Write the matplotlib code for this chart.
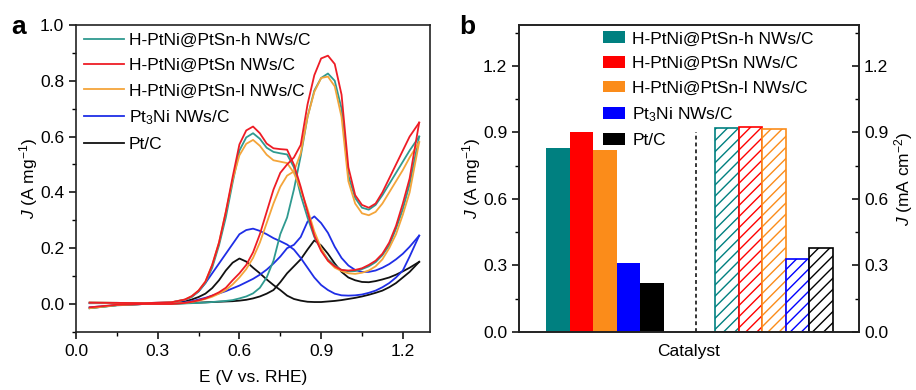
import matplotlib
matplotlib.use("Agg")
import matplotlib.pyplot as plt
from matplotlib.ticker import MultipleLocator
from matplotlib.patches import Patch

plt.rcParams['font.family'] = ['Liberation Sans', 'DejaVu Sans']
plt.rcParams['mathtext.fontset'] = 'custom'
plt.rcParams['mathtext.rm'] = 'Liberation Sans'
plt.rcParams['mathtext.it'] = 'Liberation Sans:italic'
plt.rcParams['font.size'] = 12.5
plt.rcParams['hatch.linewidth'] = 1.0

# ---- panel a: CV curves (potential grid shared by all scans) ----
E = [0.05, 0.15, 0.25, 0.35, 0.400, 0.425, 0.450, 0.475, 0.500, 0.525,
     0.550, 0.575, 0.600, 0.625, 0.650, 0.675, 0.700, 0.725, 0.750, 0.775,
     0.800, 0.825, 0.850, 0.875, 0.900, 0.925, 0.950, 0.975, 1.000, 1.025,
     1.050, 1.075, 1.100, 1.125, 1.150, 1.175, 1.200, 1.225, 1.260]

h_fwd = [-0.015, -0.005, 0.0, 0.0, 0.002, 0.003, 0.004, 0.005, 0.007, 0.009,
         0.011, 0.014, 0.020, 0.027, 0.038, 0.058, 0.095, 0.155, 0.250, 0.310,
         0.410, 0.530, 0.670, 0.765, 0.810, 0.826, 0.800, 0.700, 0.460, 0.380,
         0.345, 0.338, 0.355, 0.390, 0.430, 0.470, 0.510, 0.550, 0.600]
h_rev = [0.005, 0.004, 0.002, 0.005, 0.015, 0.025, 0.045, 0.075, 0.130, 0.210,
         0.310, 0.435, 0.550, 0.597, 0.612, 0.592, 0.560, 0.545, 0.540, 0.536,
         0.490, 0.390, 0.310, 0.240, 0.195, 0.160, 0.138, 0.122, 0.117, 0.118,
         0.125, 0.135, 0.150, 0.175, 0.210, 0.270, 0.340, 0.430, 0.600]

m_fwd = [-0.012, -0.003, 0.0, 0.0, 0.004, 0.008, 0.013, 0.020, 0.030, 0.042,
         0.058, 0.085, 0.110, 0.140, 0.185, 0.250, 0.330, 0.410, 0.470, 0.500,
         0.525, 0.570, 0.715, 0.820, 0.880, 0.890, 0.860, 0.750, 0.490, 0.390,
         0.355, 0.345, 0.360, 0.400, 0.450, 0.500, 0.550, 0.600, 0.650]
m_rev = [0.005, 0.004, 0.003, 0.006, 0.016, 0.028, 0.048, 0.080, 0.140, 0.220,
         0.330, 0.455, 0.572, 0.622, 0.636, 0.612, 0.575, 0.558, 0.555, 0.553,
         0.500, 0.420, 0.330, 0.245, 0.190, 0.155, 0.135, 0.122, 0.120, 0.122,
         0.128, 0.140, 0.155, 0.180, 0.220, 0.280, 0.360, 0.450, 0.650]

l_fwd = [-0.015, -0.004, 0.0, 0.001, 0.004, 0.007, 0.012, 0.018, 0.026, 0.037,
         0.050, 0.070, 0.095, 0.125, 0.165, 0.220, 0.290, 0.360, 0.420, 0.460,
         0.475, 0.540, 0.670, 0.760, 0.810, 0.815, 0.780, 0.670, 0.440, 0.360,
         0.325, 0.318, 0.330, 0.360, 0.400, 0.440, 0.480, 0.525, 0.580]
l_rev = [0.005, 0.004, 0.003, 0.006, 0.016, 0.028, 0.048, 0.080, 0.140, 0.220,
         0.330, 0.445, 0.533, 0.574, 0.588, 0.567, 0.535, 0.515, 0.510, 0.505,
         0.470, 0.410, 0.340, 0.260, 0.200, 0.155, 0.130, 0.118, 0.110, 0.108,
         0.112, 0.120, 0.135, 0.160, 0.200, 0.250, 0.320, 0.400, 0.580]

pt3ni_fwd = [-0.012, -0.004, 0.0, 0.002, 0.006, 0.010, 0.016, 0.022, 0.030, 0.038,
             0.046, 0.056, 0.066, 0.078, 0.090, 0.105, 0.123, 0.145, 0.170, 0.200,
             0.212, 0.240, 0.295, 0.314, 0.290, 0.255, 0.205, 0.165, 0.138, 0.122,
             0.115, 0.115, 0.120, 0.130, 0.143, 0.160, 0.180, 0.205, 0.245]
pt3ni_rev = [0.003, 0.004, 0.003, 0.006, 0.015, 0.027, 0.045, 0.075, 0.110, 0.145,
             0.180, 0.215, 0.250, 0.265, 0.270, 0.262, 0.250, 0.236, 0.225, 0.213,
             0.195, 0.165, 0.130, 0.095, 0.068, 0.050, 0.037, 0.031, 0.030, 0.031,
             0.034, 0.040, 0.048, 0.060, 0.075, 0.095, 0.120, 0.170, 0.245]

ptc_fwd = [-0.015, -0.004, 0.0, 0.001, 0.003, 0.004, 0.005, 0.006, 0.007, 0.008,
           0.009, 0.010, 0.012, 0.015, 0.020, 0.027, 0.037, 0.050, 0.078, 0.110,
           0.135, 0.160, 0.195, 0.228, 0.210, 0.180, 0.145, 0.115, 0.095, 0.085,
           0.079, 0.078, 0.082, 0.088, 0.095, 0.105, 0.117, 0.130, 0.151]
ptc_rev = [0.003, 0.003, 0.002, 0.003, 0.009, 0.016, 0.025, 0.037, 0.057, 0.085,
           0.120, 0.148, 0.163, 0.152, 0.130, 0.110, 0.088, 0.068, 0.050, 0.030,
           0.018, 0.012, 0.008, 0.007, 0.007, 0.009, 0.011, 0.014, 0.018, 0.022,
           0.027, 0.033, 0.040, 0.048, 0.060, 0.075, 0.095, 0.115, 0.151]

names = ['H-PtNi@PtSn-h NWs/C', 'H-PtNi@PtSn NWs/C', 'H-PtNi@PtSn-l NWs/C',
         'Pt$_3$Ni NWs/C', 'Pt/C']
cv_colors = ['#2f9a90', '#ee1c25', '#f4a53a', '#1f2ee6', '#111111']

# ---- panel b: activities ----
mass_act = [0.83, 0.90, 0.82, 0.31, 0.22]      # A mg-1
spec_act = [0.92, 0.925, 0.917, 0.33, 0.38]    # mA cm-2
bar_colors = ['#008080', '#ff0000', '#fb8c1a', '#0000ff', '#000000']

fig = plt.figure(figsize=(9.16, 3.90), dpi=100)
ax1 = fig.add_axes([0.083, 0.149, 0.3865, 0.787])
ax2 = fig.add_axes([0.5666, 0.149, 0.3712, 0.787])

scans = [(h_fwd, h_rev), (m_fwd, m_rev), (l_fwd, l_rev),
         (pt3ni_fwd, pt3ni_rev), (ptc_fwd, ptc_rev)]
# draw back-to-front so Pt/C and Pt3Ni sit below the PtSn curves
order = [4, 3, 0, 2, 1]
lines = {}
for i in order:
    fwd, rev = scans[i]
    ln, = ax1.plot(E, fwd, color=cv_colors[i], lw=1.3)
    ax1.plot(E, rev, color=cv_colors[i], lw=1.3)
    lines[i] = ln

ax1.legend([lines[i] for i in range(5)], names, loc='upper left', frameon=False,
           handlelength=2.3, handletextpad=0.3, labelspacing=0.58,
           borderaxespad=0.15, borderpad=0.3, fontsize=12.5)

ax1.set_xlim(0, 1.3)
ax1.set_ylim(-0.1, 1.0)
ax1.xaxis.set_major_locator(MultipleLocator(0.3))
ax1.xaxis.set_minor_locator(MultipleLocator(0.15))
ax1.yaxis.set_major_locator(MultipleLocator(0.2))
ax1.yaxis.set_minor_locator(MultipleLocator(0.1))
ax1.xaxis.set_major_formatter(plt.FormatStrFormatter('%.1f'))
ax1.yaxis.set_major_formatter(plt.FormatStrFormatter('%.1f'))
ax1.tick_params(which='major', direction='out', length=5, width=1.1, labelsize=12.5)
ax1.tick_params(which='minor', direction='out', length=3, width=1.0)
ax1.set_xlabel('E (V vs. RHE)', fontsize=12.5, labelpad=8)
ax1.set_ylabel('$J$ (A mg$^{-1}$)', fontsize=12.5, labelpad=0)
for s in ax1.spines.values():
    s.set_linewidth(1.2)
    s.set_color('#222222')

# bars
left_x = [1.65 + k for k in range(5)]
right_x = [8.85 + k for k in range(5)]
ax2.bar(left_x, mass_act, width=1.0, color=bar_colors, edgecolor='none')
for x, v, c in zip(right_x, spec_act, bar_colors):
    ax2.bar(x, v, width=1.0, facecolor='white', edgecolor=c, hatch='///',
            linewidth=1.2)
ax2.plot([7.52, 7.52], [0, 0.9], color='black', lw=1.1, ls=(0, (2.5, 2)))

ax2.legend([Patch(facecolor=c, edgecolor='none') for c in bar_colors], names,
           loc='upper left', bbox_to_anchor=(0.2, 1.03), frameon=False,
           handlelength=1.3, handleheight=0.65, handletextpad=0.4,
           labelspacing=0.55, fontsize=12.5)

ax2.set_xlim(0, 14.47)
ax2.set_ylim(0, 1.385)
ax2.set_xticks([])
ax2.yaxis.set_major_locator(MultipleLocator(0.3))
ax2.yaxis.set_minor_locator(MultipleLocator(0.15))
ax2.yaxis.set_major_formatter(plt.FormatStrFormatter('%.1f'))
ax2.tick_params(which='major', direction='out', length=5, width=1.1, labelsize=12.5)
ax2.tick_params(which='minor', direction='out', length=3, width=1.0)
ax2.set_xlabel('Catalyst', fontsize=12.5, labelpad=9)
ax2.set_ylabel('$J$ (A mg$^{-1}$)', fontsize=12.5, labelpad=0)
for s in ax2.spines.values():
    s.set_linewidth(1.2)
    s.set_color('#222222')

ax3 = ax2.twinx()
ax3.set_ylim(0, 1.385)
ax3.yaxis.set_major_locator(MultipleLocator(0.3))
ax3.yaxis.set_minor_locator(MultipleLocator(0.15))
ax3.yaxis.set_major_formatter(plt.FormatStrFormatter('%.1f'))
ax3.tick_params(which='major', direction='in', length=5, width=1.1, labelsize=12.5)
ax3.tick_params(which='minor', direction='in', length=3, width=1.0)
ax3.set_ylabel('$J$ (mA cm$^{-2}$)', fontsize=12.5, labelpad=3)
for s in ax3.spines.values():
    s.set_linewidth(1.2)
    s.set_color('#222222')

fig.text(0.012, 0.93, 'a', fontsize=19, fontweight='bold', va='center')
fig.text(0.501, 0.93, 'b', fontsize=19, fontweight='bold', va='center')

fig.savefig('out.png', dpi=100)
